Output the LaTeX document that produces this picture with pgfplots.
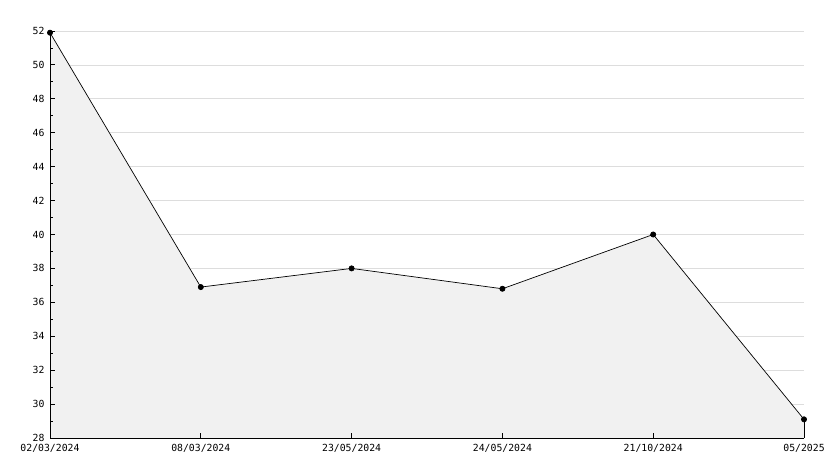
\documentclass[border=0pt]{standalone}
\usepackage{fontspec}
\setmainfont{DejaVu Sans Mono}
\usepackage{pgfplots}
\pgfplotsset{compat=1.18}
\definecolor{fillgray}{HTML}{F1F1F1}
\definecolor{gridgray}{HTML}{DDDDDD}
\pgfplotsset{base/.style={
  at={(0pt,0pt)}, anchor=origin,
  width=754pt, height=407pt, scale only axis,
  xmin=0, xmax=5, ymin=28, ymax=52,
  xtick={0,1,2,3,4,5},
  ytick={28,30,...,52},
}}
\begin{document}
\begin{tikzpicture}
\useasboundingbox (-50pt,-30pt) rectangle (784pt,438pt);
\begin{axis}[base,
  axis line style={draw=none},
  tick style={draw=none},
  ymajorgrids,
  major grid style={gridgray, line width=0.7pt},
  xticklabels={}, yticklabels={},
]
\addplot[draw=none] coordinates {(0,28)};
\end{axis}
\begin{axis}[base,
  axis on top,
  axis lines*=left,
  axis line style={black, line width=0.9pt, -},
  xticklabels={02/03/2024,08/03/2024,23/05/2024,24/05/2024,21/10/2024,05/2025},
  minor ytick={29,31,...,51},
  tick align=inside,
  major tick length=5pt,
  minor tick length=3pt,
  tick style={black, line width=0.9pt},
  ticklabel style={font=\fontsize{9.8}{10}\selectfont},
  /pgf/number format/assume math mode=true,
  xticklabel style={yshift=-3pt},
  yticklabel style={xshift=-2pt},
  clip=false,
]
\addplot[fill=fillgray, draw=none] coordinates {(0,51.9) (1,36.9) (2,38.0) (3,36.8) (4,40.0) (5,29.1)} \closedcycle;
\addplot[black, line width=0.9pt] coordinates {(5,28) (5,29.1)};
\addplot[black, line width=0.7pt, mark=*, mark size=2.6pt] coordinates {(0,51.9) (1,36.9) (2,38.0) (3,36.8) (4,40.0) (5,29.1)};
\end{axis}
\end{tikzpicture}
\end{document}
